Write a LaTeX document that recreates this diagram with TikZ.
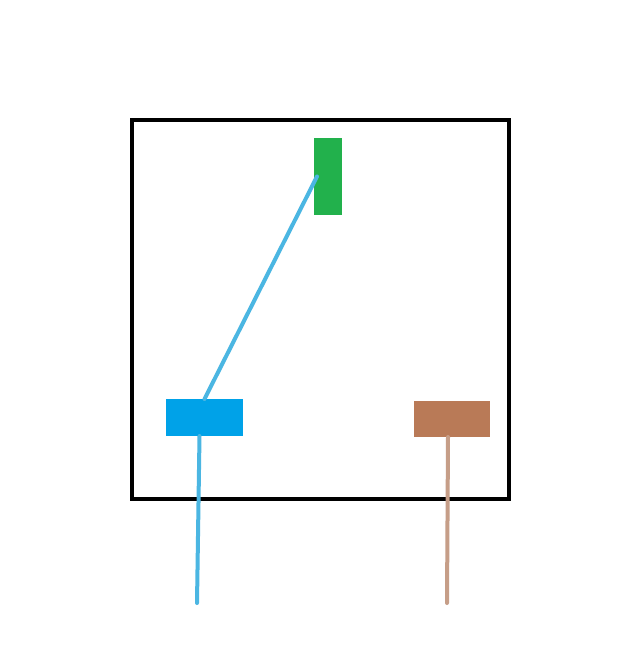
\documentclass[tikz,border=0pt]{standalone}
\usetikzlibrary{positioning}
\definecolor{gfill}{HTML}{22B14C}
\definecolor{bfill}{HTML}{00A2E8}
\definecolor{brfill}{HTML}{B97A57}
\definecolor{bline}{HTML}{4BB6E2}
\definecolor{brline}{HTML}{C69E88}
\begin{document}
\begin{tikzpicture}[x=1pt,y=-1pt,
  blk/.style={draw=none,inner sep=0pt,outer sep=0pt,minimum width=#1},
  wire/.style={line width=4pt,line cap=round}]
\useasboundingbox (0,0) rectangle (635,648);
\fill[white] (0,0) rectangle (635,648);
\node[draw,line width=4pt,inner sep=0pt,minimum width=377pt,minimum height=379pt] (frame) at (320.5,309.5) {};
\node[blk=28pt,fill=gfill,minimum height=77pt] (green) at (328,176.5) {};
\node[blk=77pt,fill=bfill,minimum height=37pt] (blue) at (204.5,417.5) {};
\node[blk=76pt,fill=brfill,minimum height=36pt] (brown) at (452,419) {};
\coordinate (bend) at (197,603);
\coordinate (brend) at (447,603);
\draw[wire,bline] ([xshift=3pt]green.west) -- (blue.north);
\draw[wire,bline] ([xshift=-5pt]blue.south) -- (bend);
\draw[wire,brline] ([xshift=-4pt]brown.south) -- (brend);
\end{tikzpicture}
\end{document}
